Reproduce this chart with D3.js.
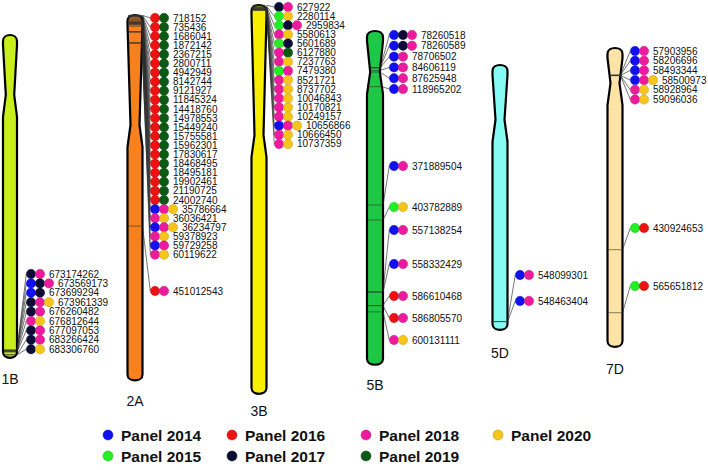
<!DOCTYPE html>
<html>
<head>
<meta charset="utf-8">
<script src="https://cdnjs.cloudflare.com/ajax/libs/d3/7.8.5/d3.min.js"></script>
<style>
body { margin: 0; background: #fff; }
text { font-family: "Liberation Sans", Arial, sans-serif; }
</style>
</head>
<body>
<div id="chart"></div>
<script>
//////////////////////////////////////////////////////////////////////////////
// Data

var panelYears = [2014, 2015, 2016, 2017, 2018, 2019, 2020];
var panelColors = ["#1010f0", "#22ee22", "#ee1111", "#0c0c36", "#ee1a9e", "#0b5a14", "#f5c51c"];

var chromosomes = ["1B", "2A", "3B", "5B", "5D", "7D"];
var chromLengthMb = [689.85, 780.80, 830.83, 713.15, 566.08, 638.69];
var centromereMb = [128, 235, 278, 88, 117, 75];
var chromColors = ["#c8ef1c", "#f5821f", "#f7ee00", "#1ec846", "#86fbf4", "#fde4a6"];

var markers1B = [
    [673174262, [2017, 2018]],
    [673569173, [2014, 2017, 2018]],
    [673699294, [2014, 2017]],
    [673961339, [2017, 2018, 2020]],
    [676260482, [2017, 2018]],
    [676812644, [2018, 2020]],
    [677097053, [2017, 2018]],
    [683266424, [2017, 2018]],
    [683306760, [2017, 2020]]
];

var markers2A = [
    [718152, [2016, 2019]],
    [735436, [2016, 2019]],
    [1686041, [2016, 2019]],
    [1872142, [2016, 2019]],
    [2367215, [2016, 2019]],
    [2800711, [2016, 2019]],
    [4942949, [2016, 2019]],
    [8142744, [2016, 2019]],
    [9121927, [2016, 2019]],
    [11845324, [2016, 2019]],
    [14418760, [2016, 2019]],
    [14978553, [2016, 2019]],
    [15449240, [2016, 2019]],
    [15755581, [2016, 2019]],
    [15962301, [2016, 2019]],
    [17830617, [2016, 2019]],
    [18468495, [2016, 2019]],
    [18495181, [2016, 2019]],
    [19902461, [2016, 2019]],
    [21190725, [2016, 2019]],
    [24002740, [2016, 2019]],
    [35786664, [2014, 2018, 2020]],
    [36036421, [2018, 2020]],
    [36234797, [2014, 2018, 2020]],
    [59378923, [2018, 2020]],
    [59729258, [2014, 2018]],
    [60119622, [2018, 2020]],
    [451012543, [2016, 2018]]
];

var markers3B = [
    [627922, [2017, 2018]],
    [2280114, [2015, 2020]],
    [2959834, [2015, 2017, 2018]],
    [5580613, [2018, 2020]],
    [5601689, [2015, 2017]],
    [6127880, [2018, 2019]],
    [7237763, [2018, 2020]],
    [7479380, [2015, 2018]],
    [8521721, [2018, 2020]],
    [8737702, [2018, 2020]],
    [10046843, [2018, 2020]],
    [10170821, [2018, 2020]],
    [10249157, [2018, 2020]],
    [10656866, [2014, 2018, 2020]],
    [10666450, [2018, 2020]],
    [10737359, [2018, 2020]]
];

var markers5B = [
    [78260518, [2014, 2017, 2018]],
    [78260589, [2014, 2017, 2018]],
    [78706502, [2014, 2018]],
    [84606119, [2014, 2018]],
    [87625948, [2014, 2018]],
    [118965202, [2014, 2018]],
    [371889504, [2014, 2018]],
    [403782889, [2015, 2020]],
    [557138254, [2014, 2018]],
    [558332429, [2014, 2018]],
    [586610468, [2016, 2018]],
    [586805570, [2016, 2018]],
    [600131111, [2018, 2020]]
];

var markers5D = [
    [548099301, [2014, 2018]],
    [548463404, [2014, 2018]]
];

var markers7D = [
    [57903956, [2014, 2018]],
    [58206696, [2014, 2018]],
    [58493344, [2014, 2018]],
    [58500973, [2014, 2018, 2020]],
    [58928964, [2018, 2020]],
    [59096036, [2018, 2020]],
    [430924653, [2015, 2016]],
    [565651812, [2015, 2016]]
];

var markerSets = [markers1B, markers2A, markers3B, markers5B, markers5D, markers7D];

//////////////////////////////////////////////////////////////////////////////
// Layout

function stack(y0, dy, n) {
    var out = [];
    for (var i = 0; i < n; ++i) out.push(y0 + i * dy);
    return out;
}

var layout = [
    {cx: 10,  w: 14, top: 35, dotX: 31,  labelGap: 21, rows: stack(274, 9.4, 9)},
    {cx: 135, w: 15, top: 15, dotX: 155, labelGap: 21, rows: stack(18, 9.1, 27).concat([291])},
    {cx: 259, w: 15, top: 5,  dotX: 279, labelGap: 17, rows: stack(7, 9.13, 16)},
    {cx: 375, w: 16, top: 31, dotX: 394, labelGap: 20, rows: stack(35, 10.8, 6).concat([166, 207, 230, 264, 296, 318, 340])},
    {cx: 500, w: 15, top: 65, dotX: 520, labelGap: 23, rows: [275, 301]},
    {cx: 615, w: 15, top: 48, dotX: 635, labelGap: 22, rows: stack(51, 9.7, 6).concat([228, 286])}
];

var width = 708, height = 470;
var dotR = 4.7, dotStep = 9;

var mbScale = d3.scaleLinear().domain([0, 1e6]).range([0, 0.468]);
var panelColor = d3.scaleOrdinal().domain(panelYears).range(panelColors);

var svg = d3.select("#chart")
    .append("svg")
    .attr("width", width)
    .attr("height", height);

//////////////////////////////////////////////////////////////////////////////
// Chromosomes

var narrowRatio = 0.6, widenLen = 22;

function halfWidthAt(L, cenY, y) {
    var hw = L.w / 2, hn = hw * narrowRatio;
    var a = L.top + 10, b = cenY + widenLen;
    if (y <= a || y >= b) return hw;
    if (y <= cenY) return hw - (hw - hn) * (y - a) / (cenY - a);
    return hn + (hw - hn) * (y - cenY) / (b - cenY);
}

function chromPath(L, cenY, bottom) {
    var hw = L.w / 2, hn = hw * narrowRatio, cap = Math.min(hw, 6);
    var a = L.top + 10, b = cenY + widenLen;
    var p = d3.path();
    p.moveTo(L.cx - hw, L.top + cap);
    p.bezierCurveTo(L.cx - hw, L.top - cap / 3, L.cx + hw, L.top - cap / 3, L.cx + hw, L.top + cap);
    p.lineTo(L.cx + hw, a);
    p.lineTo(L.cx + hn, cenY);
    p.lineTo(L.cx + hw, b);
    p.lineTo(L.cx + hw, bottom - cap);
    p.bezierCurveTo(L.cx + hw, bottom + cap / 3, L.cx - hw, bottom + cap / 3, L.cx - hw, bottom - cap);
    p.lineTo(L.cx - hw, b);
    p.lineTo(L.cx - hn, cenY);
    p.lineTo(L.cx - hw, a);
    p.closePath();
    return p.toString();
}

chromosomes.forEach(function(name, i) {
    var L = layout[i];
    var bottom = L.top + mbScale(chromLengthMb[i] * 1e6);
    var cenY = L.top + mbScale(centromereMb[i] * 1e6);
    var markers = markerSets[i];
    var yPos = function(d) { return L.top + mbScale(d[0]); };

    var g = svg.append("g").attr("class", "chrom-" + name);

    g.append("path")
        .attr("d", chromPath(L, cenY, bottom))
        .attr("fill", chromColors[i])
        .attr("stroke", "#000")
        .attr("stroke-width", 2.2)
        .attr("stroke-linejoin", "round");

    // marker bands
    g.selectAll("line.band")
        .data(markers)
        .enter()
        .append("line")
        .attr("class", "band")
        .attr("x1", function(d) { return L.cx - halfWidthAt(L, cenY, yPos(d)) + 1; })
        .attr("x2", function(d) { return L.cx + halfWidthAt(L, cenY, yPos(d)) - 1; })
        .attr("y1", yPos)
        .attr("y2", yPos)
        .attr("stroke", "#333")
        .attr("stroke-width", 0.6);

    // connectors
    g.selectAll("line.link")
        .data(markers)
        .enter()
        .append("line")
        .attr("class", "link")
        .attr("x1", function(d) { return L.cx + halfWidthAt(L, cenY, yPos(d)); })
        .attr("y1", yPos)
        .attr("x2", L.dotX - dotR)
        .attr("y2", function(d, j) { return L.rows[j]; })
        .attr("stroke", "#2a2a2a")
        .attr("stroke-width", 0.65);

    // marker rows
    var rows = g.selectAll("g.row")
        .data(markers)
        .enter()
        .append("g")
        .attr("class", "row")
        .attr("transform", function(d, j) { return "translate(" + L.dotX + "," + L.rows[j] + ")"; });

    rows.selectAll("circle")
        .data(function(d) { return d[1]; })
        .enter()
        .append("circle")
        .attr("cx", function(d, k) { return k * dotStep; })
        .attr("cy", 0)
        .attr("r", dotR)
        .attr("fill", function(d) { return panelColor(d); })
        .attr("stroke", function(d) { return d3.color(panelColor(d)).darker(0.8); })
        .attr("stroke-width", 0.4);

    rows.append("text")
        .attr("x", function(d) { return d[1].length * dotStep; })
        .attr("y", 0)
        .attr("dy", "0.35em")
        .attr("font-size", 10)
        .attr("fill", "#111")
        .text(function(d) { return d[0]; });

    g.append("text")
        .attr("x", L.cx)
        .attr("y", bottom + L.labelGap)
        .attr("dy", "0.35em")
        .attr("text-anchor", "middle")
        .attr("font-size", 14)
        .attr("fill", "#111")
        .text(name);
});

//////////////////////////////////////////////////////////////////////////////
// Legend

var legendX = [108, 232, 366, 498];
var legendY = [435, 456];

var legend = svg.append("g")
    .selectAll("g")
    .data(panelYears)
    .enter()
    .append("g")
    .attr("transform", function(d, i) {
        return "translate(" + legendX[Math.floor(i / 2)] + "," + legendY[i % 2] + ")";
    });

legend.append("circle")
    .attr("r", 5)
    .attr("fill", function(d) { return panelColor(d); })
    .attr("stroke", function(d) { return d3.color(panelColor(d)).darker(0.8); })
    .attr("stroke-width", 0.5);

legend.append("text")
    .attr("x", 13)
    .attr("y", 1)
    .attr("dy", "0.35em")
    .attr("font-size", 15.5)
    .attr("font-weight", "bold")
    .attr("fill", "#111")
    .text(function(d) { return "Panel " + d; });
</script>
</body>
</html>
